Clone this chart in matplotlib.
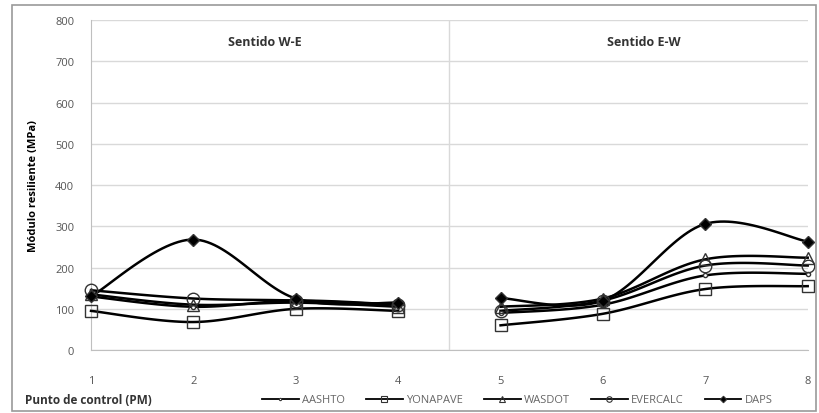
import matplotlib
matplotlib.use('Agg')
import matplotlib.pyplot as plt
from matplotlib.patches import Rectangle
import numpy as np

# control points and modulus values (MPa), W-E then E-W
puntos_we = [1, 2, 3, 4]
puntos_ew = [5, 6, 7, 8]

aashto_we = [130, 105, 120, 110]
aashto_ew = [90, 110, 181, 185]
yonapave_we = [95, 68, 100, 95]
yonapave_ew = [60, 88, 148, 155]
wasdot_we = [135, 110, 115, 105]
wasdot_ew = [105, 125, 220, 224]
evercalc_we = [145, 125, 120, 110]
evercalc_ew = [95, 120, 205, 205]
daps_we = [130, 268, 125, 115]
daps_ew = [126, 120, 306, 263]

series = [
    ('AASHTO', aashto_we, aashto_ew, dict(marker='o', markersize=3, markerfacecolor='white')),
    ('YONAPAVE', yonapave_we, yonapave_ew, dict(marker='s', markersize=9, markerfacecolor='none')),
    ('WASDOT', wasdot_we, wasdot_ew, dict(marker='^', markersize=8, markerfacecolor='none')),
    ('EVERCALC', evercalc_we, evercalc_ew, dict(marker='o', markersize=9, markerfacecolor='none')),
    ('DAPS', daps_we, daps_ew, dict(marker='D', markersize=6, markerfacecolor='black')),
]


def smooth(xs, ys, n=30):
    # Excel-like smoothed line (Catmull-Rom through the points)
    xs = np.asarray(xs, float)
    ys = np.asarray(ys, float)
    px = np.concatenate([[xs[0]], xs, [xs[-1]]])
    py = np.concatenate([[ys[0]], ys, [ys[-1]]])
    out_x, out_y = [], []
    for i in range(1, len(px) - 2):
        t = np.linspace(0, 1, n)
        for p, out in ((px, out_x), (py, out_y)):
            p0, p1, p2, p3 = p[i - 1], p[i], p[i + 1], p[i + 2]
            c1 = p1 + (p2 - p0) / 6
            c2 = p2 - (p3 - p1) / 6
            out.extend((1 - t) ** 3 * p1 + 3 * (1 - t) ** 2 * t * c1 + 3 * (1 - t) * t ** 2 * c2 + t ** 3 * p2)
    return out_x, out_y


plt.rcParams['font.family'] = ['Open Sans', 'DejaVu Sans']

fig = plt.figure(figsize=(8.2, 4.14), dpi=100)
ax = fig.add_axes([0.111, 0.152, 0.874, 0.797])

handles = []
for name, we, ew, st in series:
    for xs, ys in ((puntos_we, we), (puntos_ew, ew)):
        sx, sy = smooth(xs, ys)
        ax.plot(sx, sy, color='black', lw=1.8, clip_on=False, zorder=3)
        ax.plot(xs, ys, linestyle='none', color='black', markeredgecolor='#333333',
                markeredgewidth=1.0, clip_on=False, zorder=4, **st)
    h, = ax.plot([], [], color='black', lw=1.3, label=name, markeredgecolor='#333333',
                 markeredgewidth=0.8, **{**st, 'markersize': min(st['markersize'] * 0.55, 4)})
    handles.append(h)

ax.set_xlim(1, 8)
ax.set_ylim(0, 800)
ax.set_yticks(range(0, 801, 100))
ax.set_xticks(puntos_we + puntos_ew)
ax.yaxis.grid(True, color='#d9d9d9', lw=1)
ax.set_axisbelow(True)
ax.axvline(4.5, color='#d9d9d9', lw=1)
ax.tick_params(length=0, labelsize=8, colors='#555555')
ax.tick_params(axis='x', pad=18)
ax.tick_params(axis='y', pad=12)
for s in ['top', 'right']:
    ax.spines[s].set_visible(False)
for s in ['left', 'bottom']:
    ax.spines[s].set_color('#bfbfbf')

ax.set_ylabel('Módulo resiliente (MPa)', fontsize=8, fontweight='bold', labelpad=12)
fig.text(0.03, 1 - 401 / 414, 'Punto de control (PM)', fontsize=8.5, fontweight='bold',
         color='#333333', va='center')
ax.text(2.7, 740, 'Sentido W-E', fontsize=9, fontweight='bold', ha='center', color='#333333')
ax.text(6.4, 740, 'Sentido E-W', fontsize=9, fontweight='bold', ha='center', color='#333333')

fig.legend(handles=handles, loc='center left', bbox_to_anchor=(262 / 820, 1 - 401 / 414),
           ncol=5, frameon=False, fontsize=8, handlelength=3.3, columnspacing=1.9,
           handletextpad=0.3, labelcolor='#666666', borderaxespad=0, borderpad=0)

fig.patches.append(Rectangle((0.015, 0.005), 0.98, 0.98, transform=fig.transFigure,
                             fill=False, edgecolor='#9a9a9a', lw=1.2))

fig.savefig('out.png', dpi=100)
